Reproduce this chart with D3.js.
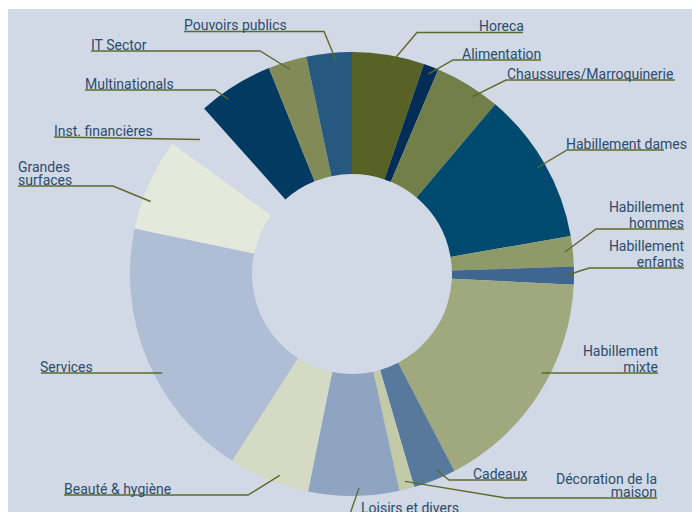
<!DOCTYPE html>
<html>
<head>
<meta charset="utf-8">
<script src="https://cdn.jsdelivr.net/npm/d3@7"></script>
<style>
  body { margin: 0; background: #fff; }
  text { font-family: Roboto, "Open Sans", sans-serif; font-size: 14px; fill: #2c4b6d; }
</style>
</head>
<body>
<div id="chart"></div>
<script>
// sectors, clockwise from 12 o'clock
var sectors = ["Horeca", "Alimentation", "Chaussures/Marroquinerie", "Habillement dames",
  "Habillement hommes", "Habillement enfants", "Habillement mixte", "Cadeaux",
  "Décoration de la maison", "Loisirs et divers", "Beauté & hygiène", "Services",
  "Grandes surfaces", "Inst. financières", "Multinationals", "IT Sector", "Pouvoirs publics"];

// share in %
var shares = [5.25, 1.1, 4.8, 11.1, 2.2, 1.3, 16.6, 3.1, 1.1, 6.6, 5.9, 19.2, 6.7, 3.4, 5.5, 2.8, 3.3];

var bg = "#d1d9e6";
var colors = ["#586226", "#032c56", "#737f48", "#004a70", "#8f9a69", "#3e6690", "#a0a97e",
  "#56799c", "#c3caa7", "#8fa4c1", "#d5dac4", "#afbed4", "#e4e9dc", bg, "#023a62",
  "#828b57", "#27587f"];

// label text lines
var labelLines = [["Horeca"], ["Alimentation"], ["Chaussures/Marroquinerie"], ["Habillement dames"],
  ["Habillement", "hommes"], ["Habillement", "enfants"], ["Habillement", "mixte"], ["Cadeaux"],
  ["Décoration de la", "maison"], ["Loisirs et divers"], ["Beauté & hygiène"], ["Services"],
  ["Grandes", "surfaces"], ["Inst. financières"], ["Multinationals"], ["IT Sector"], ["Pouvoirs publics"]];

// label layout: text x, underline y, anchor, elbow x (null = straight), line end x,
// t = where in the slice the leader starts (0..1), flat = leader runs level from the slice
var labelPos = [
  {x: 479, y: 32.5, a: "start", elbow: 417, end: 523, t: 0.55},
  {x: 462, y: 60, a: "start", elbow: 453, end: 541},
  {x: 507, y: 80, a: "start", elbow: 506, end: 675, t: 0.65},
  {x: 566, y: 150, a: "start", elbow: 567, end: 664},
  {x: 684, y: 229, a: "end", elbow: 596, end: 684},
  {x: 684, y: 268, a: "end", elbow: 589, end: 684},
  {x: 658, y: 373, a: "end", elbow: null, end: 658, flat: true},
  {x: 473, y: 480, a: "start", elbow: 449, end: 527, t: 0.36},
  {x: 657, y: 498, a: "end", elbow: 506, end: 657, gap: 12.5},
  {x: 361, y: 514, a: "start", elbow: 350, end: 480, t: 0.44},
  {x: 64, y: 495, a: "start", elbow: 248, end: 64, t: 0.39},
  {x: 40, y: 373, a: "start", elbow: null, end: 41, flat: true},
  {x: 18, y: 186, a: "start", elbow: 113, end: 18, gap: 13, t: 0.33},
  {x: 54, y: 137, a: "start", elbow: null, end: 54, r: 203, t: 0.45},
  {x: 85, y: 90, a: "start", elbow: 215, end: 85, t: 0.33},
  {x: 91, y: 51, a: "start", elbow: 260, end: 91},
  {x: 184, y: 31.5, a: "start", elbow: 324, end: 184, t: 0.64}
];

var width = 692, height = 512;
var cx = 352, cy = 274, outerR = 222, innerR = 100;

var svg = d3.select("#chart").append("svg")
  .attr("width", width)
  .attr("height", height);

svg.append("rect")
  .attr("x", 8).attr("y", 9)
  .attr("width", width - 8).attr("height", height - 9)
  .attr("fill", bg);

var data = sectors.map(function(s, i) { return {name: s, value: shares[i], i: i}; });

var pie = d3.pie().sort(null).value(function(d) { return d.value; });
var arcs = pie(data);

var arc = d3.arc().innerRadius(innerR).outerRadius(outerR);

var g = svg.append("g").attr("transform", "translate(" + cx + "," + cy + ")");

g.selectAll("path.slice")
  .data(arcs)
  .enter()
  .append("path")
  .attr("class", "slice")
  .attr("d", arc)
  .attr("fill", function(d) { return colors[d.data.i]; });

// leader lines + labels
var labels = svg.append("g").attr("class", "labels");

arcs.forEach(function(d, i) {
  var p = labelPos[i];
  var r = p.r || 214;
  var start;
  if (p.flat) {
    // leader enters the ring at label height
    var dy = p.y - cy;
    var dx = Math.sqrt(r * r - dy * dy);
    start = [p.a === "end" ? cx + dx : cx - dx, p.y];
  } else {
    var t = p.t === undefined ? 0.5 : p.t;
    var ang = d.startAngle + (d.endAngle - d.startAngle) * t;
    start = [cx + r * Math.sin(ang), cy - r * Math.cos(ang)];
  }
  var pts = [start];
  if (p.elbow !== null) pts.push([p.elbow, p.y]);
  pts.push([p.end, p.y]);

  labels.append("path")
    .attr("d", d3.line()(pts))
    .attr("fill", "none")
    .attr("stroke", "#5b6b2b")
    .attr("stroke-width", 1.4);

  var lines = labelLines[i];
  var gap = p.gap || 16;
  lines.forEach(function(t, k) {
    labels.append("text")
      .attr("x", p.x)
      .attr("y", p.y - 1.5 - (lines.length - 1 - k) * gap)
      .attr("text-anchor", p.a)
      .text(t);
  });
});
</script>
</body>
</html>
